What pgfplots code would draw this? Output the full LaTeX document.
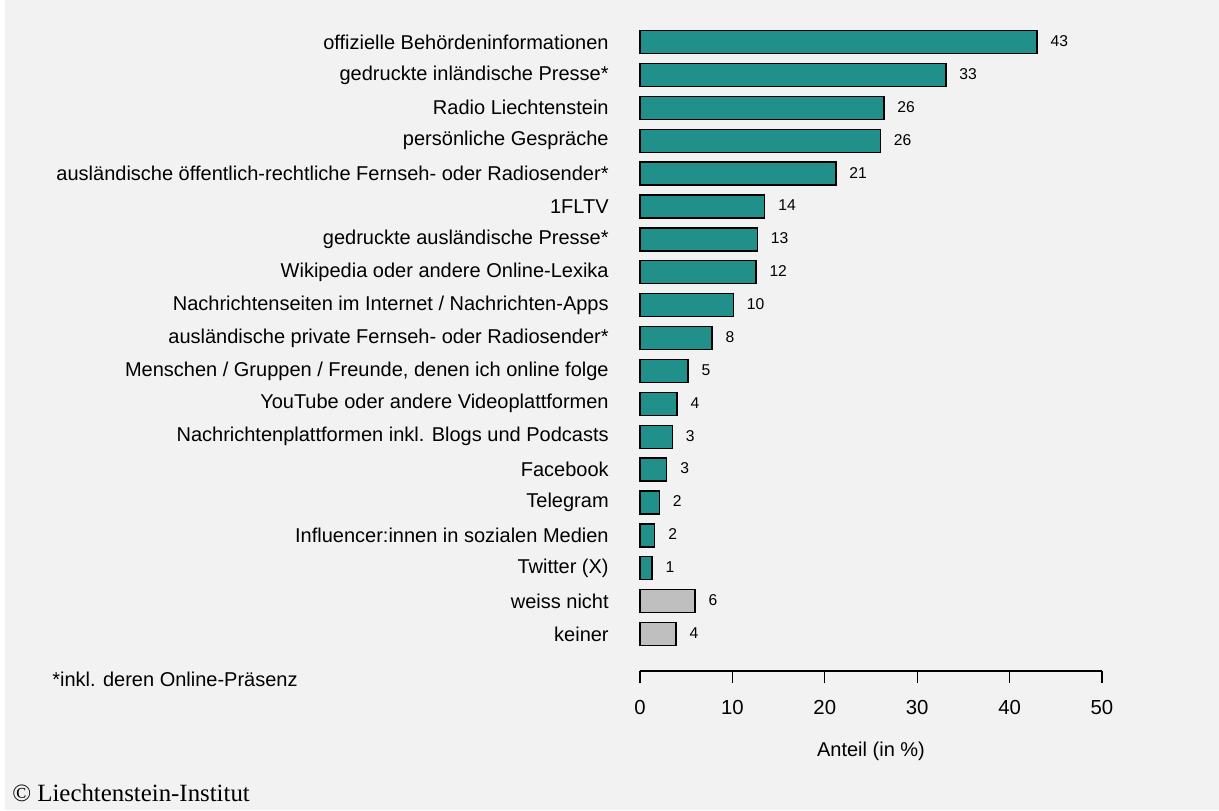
\documentclass[border=0pt]{standalone}
\usepackage{pgfplots}
\pgfplotsset{compat=1.18}
\usepackage{fontspec}
\setmainfont{Liberation Sans}
\newfontfamily\seriffont{Liberation Serif}
\definecolor{tealbar}{HTML}{218F8A}
\definecolor{bg}{HTML}{F2F2F2}
\definecolor{greybar}{HTML}{BFBFBF}

\pgfplotstableread{
x y lab
42.97 0 43
33.1 1 33
26.4 2 26
26.0 3 26
21.2 4 21
13.5 5 14
12.7 6 13
12.55 7 12
10.1 8 10
7.8 9 8
5.2 10 5
4.0 11 4
3.5 12 3
2.9 13 3
2.1 14 2
1.6 15 2
1.3 16 1
}\maindata
\pgfplotstableread{
x y lab
5.95 17 6
3.9 18 4
}\otherdata

\begin{document}
\begin{tikzpicture}[x=0.6pt,y=-0.6pt]
\path[use as bounding box] (0,0) rectangle (1219,810);
\fill[white] (0,0) rectangle (1219,810);
\fill[bg] (5,0) rectangle (1219,810);
\begin{axis}[
  at={(384pt,-402.6pt)}, anchor=south west, scale only axis,
  width=277.2pt, height=387.24pt,
  xmin=0, xmax=50, ymin=-0.5, ymax=19.125, y dir=reverse,
  axis x line*=bottom, axis y line*=left,
  y axis line style={draw=none},
  x axis line style={line width=0.8pt},
  xtick={0,10,...,50},
  tick align=outside,
  major x tick style={line width=0.8pt, black},
  major tick length=7.2pt,
  major y tick style={draw=none},
  ytick={0,...,18},
  yticklabels={offizielle Behördeninformationen, gedruckte inländische Presse*, Radio Liechtenstein, persönliche Gespräche, ausländische öffentlich-rechtliche Fernseh- oder Radiosender*, 1FLTV, gedruckte ausländische Presse*, Wikipedia oder andere Online-Lexika, Nachrichtenseiten im Internet / Nachrichten-Apps, ausländische private Fernseh- oder Radiosender*, Menschen / Gruppen / Freunde{,} denen ich online folge, YouTube oder andere Videoplattformen, Nachrichtenplattformen inkl. Blogs und Podcasts, Facebook, Telegram, Influencer:innen in sozialen Medien, Twitter (X), weiss nicht, keiner},
  yticklabel style={font=\fontsize{12}{14}\selectfont, anchor=east, inner sep=0pt, xshift=-11.4pt},
  xticklabel style={font=\fontsize{12.2}{14}\selectfont, yshift=-6.6pt},
  /pgf/number format/assume math mode=true,
  xlabel={Anteil (in \%)},
  xlabel style={font=\fontsize{12}{14}\selectfont, at={(axis description cs:0.5,0)}, anchor=center, yshift=-48pt},
  xbar, bar width=0.7, bar shift=0pt,
  nodes near coords,
  point meta=explicit symbolic,
  every node near coord/.append style={font=\fontsize{9.4}{11}\selectfont, anchor=west, xshift=4.4pt, yshift=0.6pt},
  clip=false,
]
\addplot[fill=tealbar, draw=black, line width=0.8pt] table[x=x, y=y, meta=lab] {\maindata};
\addplot[fill=greybar, draw=black, line width=0.8pt] table[x=x, y=y, meta=lab] {\otherdata};
\end{axis}
\node[anchor=west, inner sep=0pt, font=\fontsize{12}{14}\selectfont] at (52,679) {*inkl. deren Online-Präsenz};
\node[anchor=west, inner sep=0pt, font=\seriffont\fontsize{14.9}{17}\selectfont] at (12,793) {© Liechtenstein-Institut};
\end{tikzpicture}
\end{document}
